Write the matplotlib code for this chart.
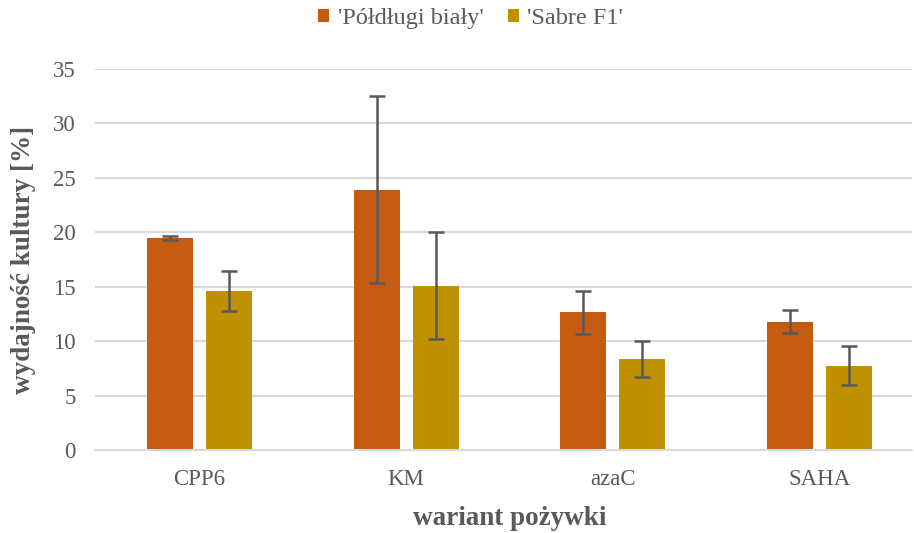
import matplotlib.pyplot as plt
import numpy as np

plt.rcParams["font.family"] = ["Liberation Serif", "DejaVu Serif"]

categories = ["CPP6", "KM", "azaC", "SAHA"]
polodlugi = [19.45, 23.9, 12.65, 11.8]
polodlugi_err = [0.2, 8.6, 2.0, 1.05]
sabre = [14.6, 15.1, 8.35, 7.75]
sabre_err = [1.8, 4.9, 1.67, 1.8]

orange = "#C55A11"
gold = "#BF9000"
text_col = "#595959"

fig = plt.figure(figsize=(9.14, 5.33), dpi=100)
ax = fig.add_axes([95 / 914, 83 / 533, 817 / 914, 381 / 533])

x = np.arange(len(categories))
w = 0.2225
off = 0.1427
err_kw = dict(ecolor="#595959", elinewidth=1.8, capsize=6, capthick=1.8)
ax.bar(x - off, polodlugi, w, yerr=polodlugi_err, color=orange,
       label="'Półdługi biały'", error_kw=err_kw, zorder=2)
ax.bar(x + off, sabre, w, yerr=sabre_err, color=gold,
       label="'Sabre F1'", error_kw=err_kw, zorder=2)

ax.set_xlim(-0.505, 3.447)
ax.set_ylim(0, 35)
ax.set_yticks(range(0, 36, 5))
ax.set_xticks(x)
ax.set_xticklabels(categories)
ax.grid(axis="y", color="#D9D9D9", linewidth=1.5, zorder=0)
ax.set_axisbelow(True)
for s in ["top", "right", "left"]:
    ax.spines[s].set_visible(False)
ax.spines["bottom"].set_color("#D9D9D9")
ax.spines["bottom"].set_linewidth(1.5)
ax.tick_params(axis="both", length=0, labelsize=16.5, colors=text_col)
ax.tick_params(axis="y", pad=14)
ax.tick_params(axis="x", pad=14)

ax.set_xlabel("wariant pożywki", fontsize=19.5, fontweight="bold", color=text_col)
ax.xaxis.set_label_coords(0.508, -0.148)
ax.set_ylabel("wydajność kultury [%]", fontsize=19.5, fontweight="bold", color=text_col, labelpad=12)

ax.legend(loc="center", bbox_to_anchor=(0.4596, 1.132), ncol=2, frameon=False,
          fontsize=17.5, labelcolor=text_col, handlelength=0.46, handleheight=0.46,
          handletextpad=0.35, columnspacing=1.0)

fig.savefig("out.png", dpi=100)
